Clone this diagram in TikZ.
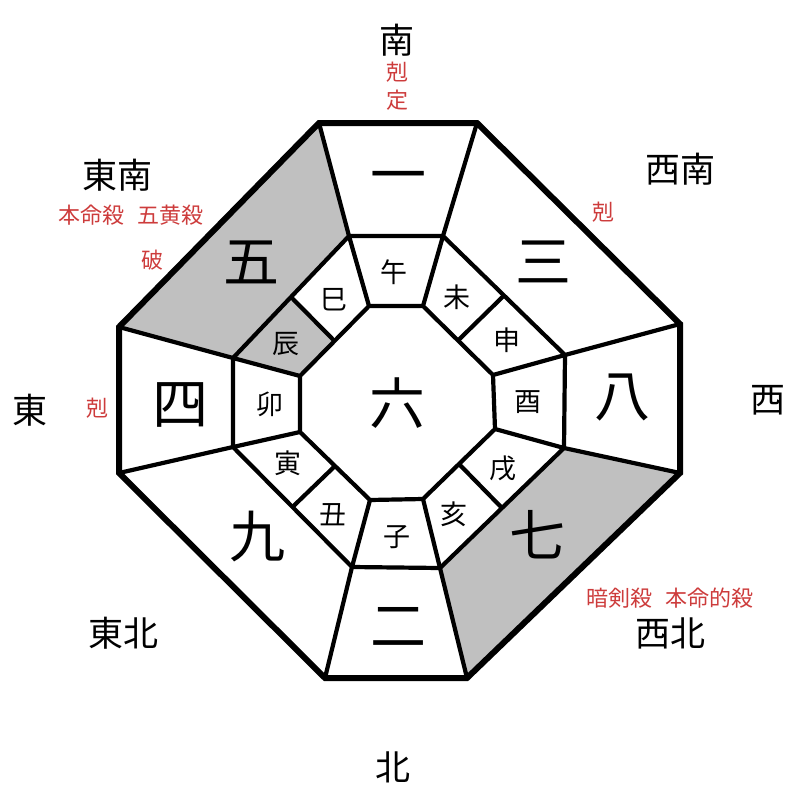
\documentclass[tikz,border=0pt]{standalone}
\usepackage{fontspec}
\usetikzlibrary{calc}
\newfontfamily\jp{Noto Sans CJK JP}
\definecolor{redtxt}{RGB}{205,60,60}
\definecolor{grayfill}{RGB}{192,192,192}
\begin{document}
\begin{tikzpicture}[x=1pt,y=-1pt,
  outerline/.style={line width=6pt},
  innerline/.style={line width=4.2pt},
  grayarea/.style={fill=grayfill},
  dirtext/.style={font=\jp\fontsize{35}{35}\selectfont},
  notetext/.style={font=\jp\fontsize{22}{22}\selectfont, text=redtxt},
  numtext/.style={font=\jp\fontsize{56}{56}\selectfont},
  zodtext/.style={font=\jp\fontsize{27}{27}\selectfont},
  inner sep=0pt]
\useasboundingbox (0,0) rectangle (800,800);
% outer octagon
\coordinate (O1) at (319,123);
\coordinate (O2) at (477,123);
\coordinate (O3) at (680,324);
\coordinate (O4) at (680,473);
\coordinate (O5) at (467,678);
\coordinate (O6) at (325,678);
\coordinate (O7) at (119,473);
\coordinate (O8) at (119,327);
% middle octagon
\coordinate (M1) at (349,236);
\coordinate (M2) at (443,236);
\coordinate (M3) at (565,355);
\coordinate (M4) at (564,448);
\coordinate (M5) at (440,568);
\coordinate (M6) at (352,567);
\coordinate (M7) at (233,447);
\coordinate (M8) at (233,358);
% inner octagon
\coordinate (I1) at (369,306);
\coordinate (I2) at (423,306);
\coordinate (I3) at (493,375);
\coordinate (I4) at (495,429);
\coordinate (I5) at (423,499);
\coordinate (I6) at (370,500);
\coordinate (I7) at (300,432);
\coordinate (I8) at (300,376);
% dividers on diagonal sides
\coordinate (DmNE) at ($(M2)!0.5!(M3)$);
\coordinate (DiNE) at ($(I2)!0.5!(I3)$);
\coordinate (DmSE) at ($(M4)!0.5!(M5)$);
\coordinate (DiSE) at ($(I4)!0.5!(I5)$);
\coordinate (DmSW) at ($(M6)!0.5!(M7)$);
\coordinate (DiSW) at ($(I6)!0.5!(I7)$);
\coordinate (DmNW) at ($(M8)!0.5!(M1)$);
\coordinate (DiNW) at ($(I8)!0.5!(I1)$);
% shaded areas
\fill[grayarea] (O8) -- (O1) -- (M1) -- (M8) -- cycle;
\fill[grayarea] (O4) -- (O5) -- (M5) -- (M4) -- cycle;
\fill[grayarea] (M8) -- (DmNW) -- (DiNW) -- (I8) -- cycle;
% inner lines
\draw[innerline] (M1) -- (M2) -- (M3) -- (M4) -- (M5) -- (M6) -- (M7) -- (M8) -- cycle;
\draw[innerline] (I1) -- (I2) -- (I3) -- (I4) -- (I5) -- (I6) -- (I7) -- (I8) -- cycle;
\foreach \k in {1,...,8}{
  \draw[innerline] (O\k) -- (M\k);
  \draw[innerline] (M\k) -- (I\k);
}
\draw[innerline] (DmNE) -- (DiNE);
\draw[innerline] (DmSE) -- (DiSE);
\draw[innerline] (DmSW) -- (DiSW);
\draw[innerline] (DmNW) -- (DiNW);
% outer octagon
\draw[outerline] (O1) -- (O2) -- (O3) -- (O4) -- (O5) -- (O6) -- (O7) -- (O8) -- cycle;
% sector numbers
\node[numtext] (n1) at (398,183) {一};
\node[numtext] (n3) at (543,262) {三};
\node[numtext] (n8) at (622,398) {八};
\node[numtext] (n7) at (537,535) {七};
\node[numtext] (n2) at (398,627) {二};
\node[numtext] (n9) at (257,537) {九};
\node[numtext] (n4) at (180,405) {四};
\node[numtext] (n5) at (251,262) {五};
\node[numtext] (n6) at (397,403) {六};
% zodiac
\node[zodtext] (zu) at (394,272) {午};
\node[zodtext] (zhi) at (457,297) {未};
\node[zodtext] (zsh) at (507,340) {申};
\node[zodtext] (zyo) at (528,402) {酉};
\node[zodtext] (zju) at (503,468) {戌};
\node[zodtext] (zgai) at (454,514) {亥};
\node[zodtext] (zne) at (397,537) {子};
\node[zodtext] (zus) at (333,515) {丑};
\node[zodtext] (zto) at (288,463) {寅};
\node[zodtext] (zu2) at (270,404) {卯};
\node[zodtext] (zta) at (286,344) {辰};
\node[zodtext] (zmi) at (334,300) {巳};
% directions
\node[dirtext] (dS) at (397,40) {南};
\node[notetext] (dS1) at (397,72) {剋};
\node[notetext] (dS2) at (397,100) {定};
\node[dirtext] (dSE) at (117,175) {東南};
\node[notetext] (dSE1) at (131,215) {本命殺\hspace{0.6em}五黄殺};
\node[notetext] (dSE2) at (152,260) {破};
\node[dirtext] (dSW) at (680,169) {西南};
\node[notetext] (dSW1) at (603,212) {剋};
\node[dirtext] (dE) at (30,410) {東};
\node[notetext] (dE1) at (97,408) {剋};
\node[dirtext] (dW) at (768,400) {西};
\node[dirtext] (dNE) at (123,633) {東北};
\node[dirtext] (dNW) at (670,633) {西北};
\node[notetext] (dNW1) at (670,598) {暗剣殺\hspace{0.6em}本命的殺};
\node[dirtext] (dN) at (393,767) {北};
\end{tikzpicture}
\end{document}
